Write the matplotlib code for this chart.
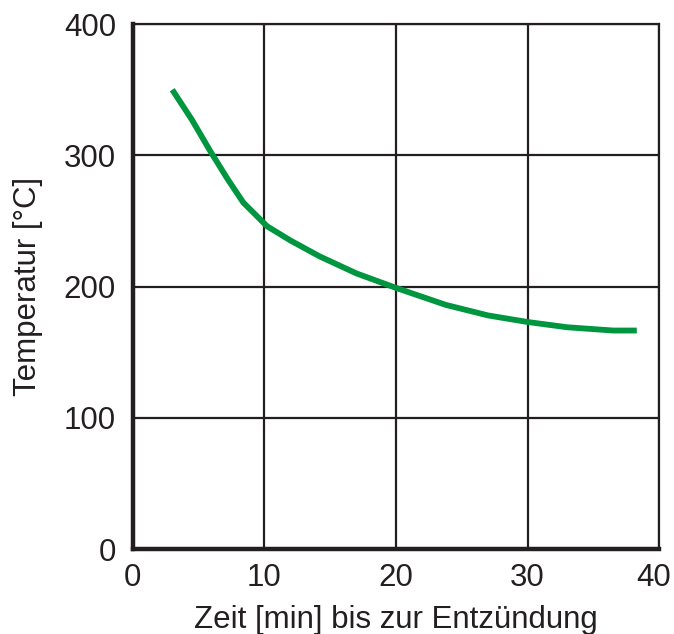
import matplotlib.pyplot as plt
import matplotlib.transforms as mtransforms

# Zeit bis zur Entzuendung [min] und Temperatur [C]
zeit = [3.0, 4.5, 5.9, 7.2, 8.4, 9.4, 10.2, 12.0, 14.2, 17.0, 20.0, 23.8, 27.0, 30.0, 33.0, 36.5, 38.3]
temp = [350, 327, 303, 282, 264, 254, 246, 235, 223, 210, 199, 186, 178, 173, 169, 166.5, 166.5]

xticks = [0, 10, 20, 30, 40]
yticks = [0, 100, 200, 300, 400]

plt.rcParams['font.family'] = ['Liberation Sans', 'DejaVu Sans']

fig = plt.figure(figsize=(6.74, 6.34), dpi=100)
ax = fig.add_axes([0.197, 0.134, 0.781, 0.828])

ax.plot(zeit, temp, color='#00963f', linewidth=4.2, solid_capstyle='butt',
        solid_joinstyle='round', zorder=3)

ax.set_xlim(0, 40)
ax.set_ylim(0, 400)
ax.set_xticks(xticks)
ax.set_yticks(yticks)
ax.tick_params(length=0, labelsize=22.5, colors='#231f20')
ax.tick_params(axis='y', pad=12)
ax.tick_params(axis='x', pad=10)
ax.grid(True, color='#231f20', linewidth=1.6)

# last x label would run off the right edge
last = ax.get_xticklabels()[-1]
last.set_transform(last.get_transform() +
                   mtransforms.ScaledTranslation(-6 / 100, 0, fig.dpi_scale_trans))

for side in ['top', 'right']:
    ax.spines[side].set_linewidth(1.6)
    ax.spines[side].set_color('#231f20')
for side in ['left', 'bottom']:
    ax.spines[side].set_linewidth(3.2)
    ax.spines[side].set_color('#231f20')

ax.set_xlabel('Zeit [min] bis zur Entzündung', fontsize=22.5, color='#231f20', labelpad=9)
ax.set_ylabel('Temperatur [°C]', fontsize=22.5, color='#231f20', labelpad=15)

fig.savefig('out.png', dpi=100)
